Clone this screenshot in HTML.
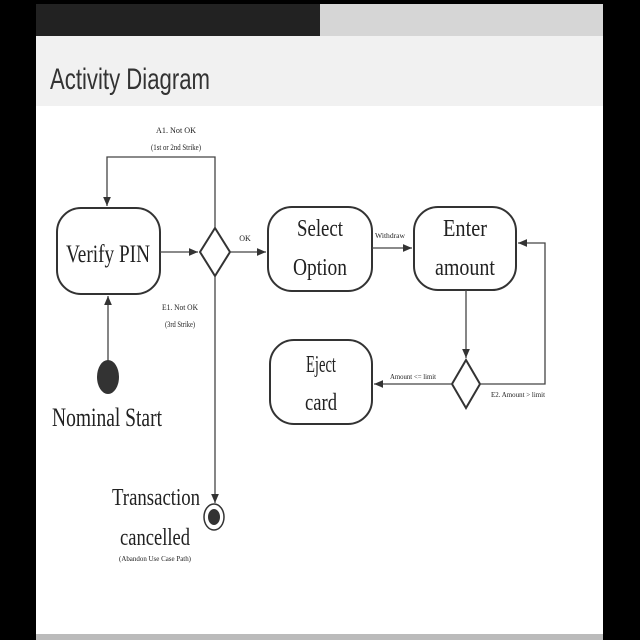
<!DOCTYPE html><html><head><style>
body{margin:0;background:#000;width:640px;height:640px;overflow:hidden}
svg{display:block}
</style></head><body>
<svg width="640" height="640" viewBox="0 0 640 640" font-family="Liberation Serif, serif">
<defs><marker id="a" markerWidth="8" markerHeight="8" refX="7" refY="4" orient="auto"><path d="M0,1 L7,4 L0,7z" fill="#333"/></marker></defs>
<rect x="0" y="0" width="640" height="640" fill="#000"/>
<rect x="36" y="4" width="567" height="632" fill="#fff"/>
<rect x="36" y="4" width="284" height="32" fill="#222"/>
<rect x="320" y="4" width="283" height="32" fill="#d6d6d6"/>
<rect x="36" y="36" width="567" height="70" fill="#f1f1f1"/>
<rect x="36" y="634" width="567" height="6" fill="#bbb"/>
<text x="50" y="89" font-family="Liberation Sans, sans-serif" font-size="30" fill="#333" textLength="160" lengthAdjust="spacingAndGlyphs">Activity Diagram</text>
<g fill="none" stroke="#333" stroke-width="2">
<rect x="57" y="208" width="103" height="86" rx="24"/>
<rect x="268" y="207" width="104" height="84" rx="24"/>
<rect x="414" y="207" width="102" height="83" rx="24"/>
<rect x="270" y="340" width="102" height="84" rx="24"/>
<path d="M215,228 L230,252 L215,276 L200,252z"/>
<path d="M466,360 L480,384 L466,408 L452,384z"/>
</g>
<g fill="none" stroke="#444" stroke-width="1.3" marker-end="url(#a)">
<path d="M215,228 V157 H107 V206"/>
<path d="M160,252 H198"/>
<path d="M230,252 H266"/>
<path d="M372,248 H412"/>
<path d="M466,290 V358"/>
<path d="M452,384 H374"/>
<path d="M480,384 H545 V243 H518"/>
<path d="M215,276 V503"/>
<path d="M108,362 V296"/>
</g>
<ellipse cx="108" cy="377" rx="11" ry="17" fill="#333"/>
<ellipse cx="214" cy="517" rx="10" ry="13" fill="none" stroke="#333" stroke-width="1.5"/>
<ellipse cx="214" cy="517" rx="6" ry="8" fill="#333"/>
<g fill="#222" text-anchor="middle" lengthAdjust="spacingAndGlyphs">
<text x="108" y="262" font-size="25" textLength="84" lengthAdjust="spacingAndGlyphs">Verify PIN</text>
<text x="320" y="236" font-size="24" textLength="46" lengthAdjust="spacingAndGlyphs">Select</text>
<text x="320" y="275" font-size="24" textLength="54" lengthAdjust="spacingAndGlyphs">Option</text>
<text x="465" y="236" font-size="24" textLength="44" lengthAdjust="spacingAndGlyphs">Enter</text>
<text x="465" y="275" font-size="24" textLength="60" lengthAdjust="spacingAndGlyphs">amount</text>
<text x="321" y="372" font-size="24" textLength="30" lengthAdjust="spacingAndGlyphs">Eject</text>
<text x="321" y="410" font-size="24" textLength="32" lengthAdjust="spacingAndGlyphs">card</text>
<text x="107" y="426" font-size="26" textLength="110" lengthAdjust="spacingAndGlyphs">Nominal Start</text>
<text x="156" y="505" font-size="24" textLength="88" lengthAdjust="spacingAndGlyphs">Transaction</text>
<text x="155" y="545" font-size="24" textLength="70" lengthAdjust="spacingAndGlyphs">cancelled</text>
<text x="155" y="561" font-size="7" textLength="72" lengthAdjust="spacingAndGlyphs">(Abandon Use Case Path)</text>
<text x="176" y="133" font-size="8" textLength="40" lengthAdjust="spacingAndGlyphs">A1. Not OK</text>
<text x="176" y="150" font-size="8" textLength="50" lengthAdjust="spacingAndGlyphs">(1st or 2nd Strike)</text>
<text x="180" y="310" font-size="8" textLength="36" lengthAdjust="spacingAndGlyphs">E1. Not OK</text>
<text x="180" y="327" font-size="8" textLength="30" lengthAdjust="spacingAndGlyphs">(3rd Strike)</text>
<text x="245" y="241" font-size="8">OK</text>
<text x="390" y="238" font-size="7" textLength="30" lengthAdjust="spacingAndGlyphs">Withdraw</text>
<text x="413" y="379" font-size="7" textLength="46" lengthAdjust="spacingAndGlyphs">Amount &lt;= limit</text>
<text x="518" y="397" font-size="7" textLength="54" lengthAdjust="spacingAndGlyphs">E2. Amount &gt; limit</text>
</g>
</svg>
</body></html>
